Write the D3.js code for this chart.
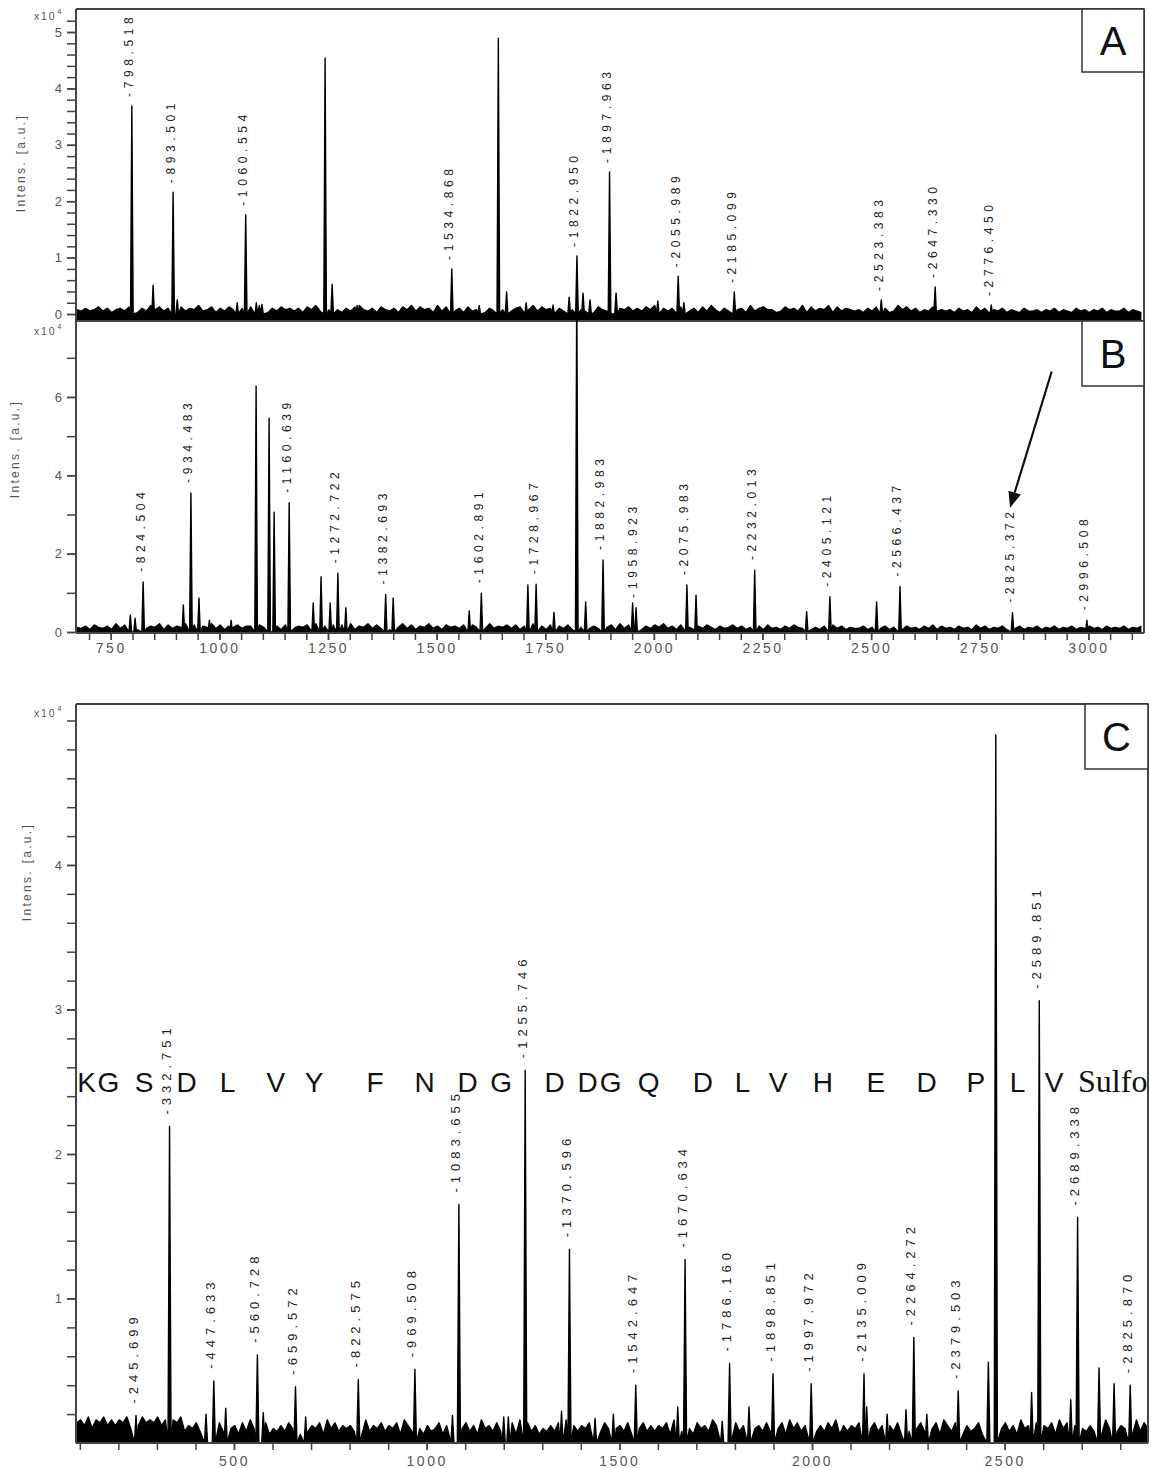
<!DOCTYPE html>
<html>
<head>
<meta charset="utf-8">
<script src="https://cdn.jsdelivr.net/npm/d3@7"></script>
<style>
  body { margin: 0; background: #fff; }
  svg { display: block; }
</style>
</head>
<body>
<div id="chart"></div>
<script>
// peaks: [m/z, intensity (x10^4), label]
var peaksA = [
  [798.518, 3.69, "798.518"], [847.5, 0.51], [893.501, 2.16, "893.501"], [903, 0.25],
  [1041, 0.2], [1060.554, 1.76, "1060.554"], [1085, 0.2], [1098, 0.17],
  [1243.3, 4.54], [1259.5, 0.53], [1317, 0.15], [1534.868, 0.80, "1534.868"],
  [1598, 0.15], [1642, 4.89], [1661, 0.39], [1706, 0.2], [1768, 0.16], [1805, 0.3],
  [1822.950, 1.03, "1822.950"], [1837, 0.37], [1853, 0.25], [1897.963, 2.52, "1897.963"],
  [1913, 0.37], [2009, 0.23], [2055.989, 0.67, "2055.989"], [2069, 0.2],
  [2185.099, 0.39, "2185.099"], [2523.383, 0.25, "2523.383"], [2647.330, 0.48, "2647.330"],
  [2776.450, 0.16, "2776.450"]
];

var peaksB = [
  [795, 0.43], [806, 0.35], [824.504, 1.28, "824.504"], [917, 0.69], [934.483, 3.55, "934.483"],
  [953, 0.87], [977, 0.3], [1027, 0.3], [1084.5, 6.28], [1114.4, 5.46], [1126, 3.06],
  [1160.639, 3.3, "1160.639"], [1216, 0.74], [1234, 1.41], [1255, 0.74], [1272.722, 1.50, "1272.722"],
  [1291, 0.62], [1382.693, 0.96, "1382.693"], [1400, 0.87], [1575, 0.54], [1602.891, 0.99, "1602.891"],
  [1710, 1.2], [1728.967, 1.22, "1728.967"], [1770, 0.5], [1822.5, 9.0], [1843, 0.77],
  [1882.983, 1.84, "1882.983"], [1951, 0.74], [1958.923, 0.62, "1958.923"], [2075.983, 1.2, "2075.983"],
  [2097, 0.94], [2232.013, 1.58, "2232.013"], [2351.6, 0.52], [2405.121, 0.9, "2405.121"],
  [2512.6, 0.77], [2566.437, 1.16, "2566.437"], [2825.372, 0.49, "2825.372"], [2996.508, 0.3, "2996.508"]
];

var peaksC = [
  [245.699, 0.19, "245.699"], [332.751, 2.19, "332.751"], [427.4, 0.2], [447.633, 0.43, "447.633"],
  [478.5, 0.24], [560.728, 0.61, "560.728"], [576, 0.21], [659.572, 0.39, "659.572"], [686, 0.18],
  [822.575, 0.44, "822.575"], [969.508, 0.51, "969.508"], [1067, 0.19], [1083.655, 1.65, "1083.655"],
  [1200, 0.18], [1212, 0.18], [1255.746, 2.58, "1255.746"], [1350, 0.22], [1370.596, 1.34, "1370.596"],
  [1437, 0.17], [1484.5, 0.2], [1542.647, 0.4, "1542.647"], [1651.6, 0.25], [1670.634, 1.27, "1670.634"],
  [1767, 0.15], [1786.160, 0.55, "1786.160"], [1836.6, 0.25], [1898.851, 0.48, "1898.851"],
  [1997.972, 0.41, "1997.972"], [2135.009, 0.48, "2135.009"], [2142, 0.25], [2195, 0.2], [2244, 0.23],
  [2264.272, 0.73, "2264.272"], [2298, 0.2], [2379.503, 0.36, "2379.503"], [2457.7, 0.56],
  [2477, 4.9], [2570, 0.35], [2589.851, 3.06, "2589.851"], [2671.5, 0.3], [2689.338, 1.56, "2689.338"],
  [2745, 0.52], [2784, 0.41], [2825.870, 0.4, "2825.870"]
];

// baseline noise, one digit every 10 Da
var noiseA = "3242352413 4253142635 2413524362 3514253342 5263142534 2415362435 3142563241 5324153625 " +
  "3416253241 5236142534 2451362534 1425363241 5326143524 2536142435 3241526314 2534162453 " +
  "3125342615 2436152432 3142534126 3524132523 2314231524 1324132142 2313241321 4231324132 2413213241";
var noiseB = "4352643527 3645263547 2635473625 4736254635 5264735264 3546273546 4637254736 3526473625 " +
  "4735264536 2645373546 3625473526 4536274635 3546273645 2536473526 3425364253 4635243526 " +
  "3425364352 4253635243 3524635243 2534253625 3425342635 2435243524 3524352435 2435342534 3524352435";
var noiseC = "7869587968 6879586978 7968587946 5746385746 5637485647 3546475836 4657385746 5647384657 " +
  "4657386475 3645736485 5746385647 4657385746 3546473856 4657384756 5647385746 4657386475 " +
  "3756486475 5746385647 4657385746 3546475836 4657385746 5647384657 4657386475 3645736485 " +
  "5746385647 4657385746 3546473856 4657384756 5647385746";

// tick values
var xTicksAB = d3.range(700, 3101, 50);
var xLabelsAB = [750, 1000, 1250, 1500, 1750, 2000, 2250, 2500, 2750, 3000];
var xTicksC = d3.range(100, 2801, 100);
var xLabelsC = [500, 1000, 1500, 2000, 2500];
var yTicksA = d3.range(0, 27).map(function (i) { return i * 0.2; });
var yLabelsA = [0, 1, 2, 3, 4, 5];
var yTicksB = [0, 1, 2, 3, 4, 5, 6, 7];
var yLabelsB = [0, 2, 4, 6];
var yTicksC = d3.range(1, 26).map(function (i) { return i * 0.2; });
var yLabelsC = [1, 2, 3, 4];

// peptide sequence above panel C: letter, m/z of its centre
var seqLetters = ["K", "G", "S", "D", "L", "V", "Y", "F", "N", "D", "G", "D", "D", "G", "Q",
  "D", "L", "V", "H", "E", "D", "P", "L", "V"];
var seqMz = [117.8, 174.3, 266.5, 376.8, 483.2, 608.3, 707.7, 866, 995, 1106.6, 1193.5, 1332.3,
  1418, 1477.2, 1575.8, 1716.5, 1819.8, 1912, 2028, 2165.4, 2297.3, 2425, 2533.5, 2628];

var W = 1151, H = 1468;
var sans = "'Liberation Sans', Arial, sans-serif";
var svg = d3.select("#chart").append("svg").attr("width", W).attr("height", H);
var defs = svg.append("defs");

function spectrum(noise, start, unit, peaks, w, dom) {
  var pts = [];
  noise.replace(/\s/g, "").split("").forEach(function (c, i) {
    var m = start + i * 10;
    if (m < dom[0] || m > dom[1]) return;
    var near = peaks.some(function (p) { return Math.abs(p[0] - m) < w * 1.5; });
    if (!near) pts.push([m, +c * unit]);
  });
  peaks.forEach(function (p) {
    pts.push([p[0] - w, 0], [p[0], p[1]], [p[0] + w, 0]);
  });
  return pts.sort(function (a, b) { return a[0] - b[0]; });
}

function panel(o) {
  var x = d3.scaleLinear().domain(o.xDomain).range([o.left, o.right]);
  var y = d3.scaleLinear().domain(o.yDomain).range([o.bottom, o.top]);
  var g = svg.append("g");

  defs.append("clipPath").attr("id", "clip" + o.name).append("rect")
    .attr("x", o.left).attr("y", o.top - o.overflow)
    .attr("width", o.right - o.left).attr("height", o.bottom - o.top + o.overflow);

  var pts = spectrum(o.noise, o.noiseStart, o.unit, o.peaks, o.w, o.xDomain);
  var plot = g.append("g").attr("clip-path", "url(#clip" + o.name + ")");
  plot.append("path").datum(pts)
    .attr("d", d3.area().x(function (d) { return x(d[0]); }).y0(o.bottom).y1(function (d) { return y(d[1]); }))
    .attr("fill", "#000");
  plot.append("path").datum(pts)
    .attr("d", d3.line().x(function (d) { return x(d[0]); }).y(function (d) { return y(d[1]); }))
    .attr("fill", "none").attr("stroke", "#000").attr("stroke-width", 1.4).attr("stroke-linejoin", "round");

  // peak labels
  g.selectAll("text.peak").data(o.peaks.filter(function (p) { return p[2]; }))
    .enter().append("text")
    .attr("class", "peak")
    .attr("transform", function (p) { return "translate(" + x(p[0]) + "," + (y(p[1]) - o.gap) + ") rotate(-90)"; })
    .attr("dy", "0.12em")
    .attr("font-family", sans).attr("font-size", o.labelSize).attr("letter-spacing", o.labelSpacing)
    .attr("fill", "#222")
    .text(function (p) { return "-" + p[2]; });

  // frame
  var fr = g.append("g").attr("fill", "none").attr("stroke", "#444").attr("stroke-width", 2);
  if (o.frameTop) fr.append("line").attr("x1", o.left).attr("x2", o.right).attr("y1", o.top).attr("y2", o.top);
  fr.append("line").attr("x1", o.left).attr("x2", o.right).attr("y1", o.bottom).attr("y2", o.bottom);
  fr.append("line").attr("x1", o.left).attr("x2", o.left).attr("y1", o.top).attr("y2", o.bottom);
  fr.append("line").attr("x1", o.right).attr("x2", o.right).attr("y1", o.top).attr("y2", o.bottom);

  // y axis
  var ya = g.append("g").attr("transform", "translate(" + (o.left - 1) + ",0)")
    .call(d3.axisLeft(y).tickValues(o.yTicks).tickSize(8).tickFormat(""));
  var yl = g.append("g").attr("transform", "translate(" + (o.left - 1) + ",0)")
    .call(d3.axisLeft(y).tickValues(o.yLabels).tickSize(8).tickPadding(5).tickFormat(d3.format("d")));
  [ya, yl].forEach(function (a) {
    a.select(".domain").remove();
    a.selectAll("line").attr("stroke", "#444").attr("stroke-width", 1.5);
    a.selectAll("text").attr("font-family", sans).attr("font-size", 13).attr("fill", "#555");
  });

  // x axis
  if (o.xTicks) {
    var xa = g.append("g").attr("transform", "translate(0," + (o.bottom + 1) + ")")
      .call(d3.axisBottom(x).tickValues(o.xTicks).tickSize(6).tickFormat(""));
    var xl = g.append("g").attr("transform", "translate(0," + (o.bottom + 1) + ")")
      .call(d3.axisBottom(x).tickValues(o.xLabels).tickSize(6).tickPadding(o.xPad).tickFormat(d3.format("d")));
    [xa, xl].forEach(function (a) {
      a.select(".domain").remove();
      a.selectAll("line").attr("stroke", "#444").attr("stroke-width", 1.5);
      a.selectAll("text").attr("font-family", sans).attr("font-size", 14).attr("letter-spacing", 2.5)
        .attr("fill", "#555");
    });
  }

  // axis title
  g.append("text")
    .attr("transform", "translate(" + o.titleX + "," + o.titleY + ") rotate(-90)")
    .attr("dy", "0.35em").attr("text-anchor", "middle")
    .attr("font-family", sans).attr("font-size", 12).attr("letter-spacing", 2.3).attr("fill", "#555")
    .text("Intens. [a.u.]");

  // x10^4
  var ex = g.append("text").attr("x", 34).attr("y", o.expY)
    .attr("font-family", sans).attr("font-size", 10.5).attr("letter-spacing", 1.8).attr("fill", "#555");
  ex.append("tspan").text("x10");
  ex.append("tspan").attr("font-size", 7.5).attr("dy", -6).attr("dx", 1).text("4");

  // panel letter box
  g.append("rect").attr("x", o.box[0]).attr("y", o.box[1]).attr("width", o.box[2]).attr("height", o.box[3])
    .attr("fill", "#fff").attr("stroke", "#333").attr("stroke-width", 1.5);
  g.append("text").attr("x", o.box[0] + o.box[2] / 2).attr("y", o.box[1] + o.box[3] / 2)
    .attr("dy", "0.36em").attr("text-anchor", "middle")
    .attr("font-family", sans).attr("font-size", 40).attr("fill", "#111")
    .text(o.name);

  return { x: x, y: y, g: g };
}

panel({
  name: "A", left: 76, right: 1144, top: 9, bottom: 321, overflow: 0, frameTop: true,
  xDomain: [670, 3128], yDomain: [-0.124, 5.408],
  noise: noiseA, noiseStart: 672, unit: 0.025, peaks: peaksA, w: 3,
  gap: 9, labelSize: 12, labelSpacing: 4.6,
  yTicks: yTicksA, yLabels: yLabelsA,
  titleX: 21, titleY: 163, expY: 20, box: [1082, 9, 62, 63]
});

var pB = panel({
  name: "B", left: 76, right: 1144, top: 321, bottom: 633, overflow: 3, frameTop: false,
  xDomain: [670, 3128], yDomain: [-0.0255, 7.94],
  noise: noiseB, noiseStart: 672, unit: 0.03, peaks: peaksB, w: 3,
  gap: 10, labelSize: 12, labelSpacing: 4.6,
  yTicks: yTicksB, yLabels: yLabelsB,
  xTicks: xTicksAB, xLabels: xLabelsAB, xPad: 3,
  titleX: 15, titleY: 449, expY: 335, box: [1082, 321, 62, 65]
});

// arrow pointing at the 2825.372 peak
var a0 = [pB.x(2915.6), pB.y(6.65)], a1 = [pB.x(2819.6), pB.y(3.17)];
var ang = Math.atan2(a1[1] - a0[1], a1[0] - a0[0]);
var hl = 16, hw = 6.5;
var base = [a1[0] - hl * Math.cos(ang), a1[1] - hl * Math.sin(ang)];
pB.g.append("line").attr("x1", a0[0]).attr("y1", a0[1]).attr("x2", base[0]).attr("y2", base[1])
  .attr("stroke", "#111").attr("stroke-width", 2.2);
pB.g.append("path")
  .attr("d", "M" + a1 + "L" + [base[0] + hw * Math.sin(ang), base[1] - hw * Math.cos(ang)] +
    "L" + [base[0] - hw * Math.sin(ang), base[1] + hw * Math.cos(ang)] + "Z")
  .attr("fill", "#111");

var pC = panel({
  name: "C", left: 76, right: 1148, top: 704, bottom: 1443, overflow: 0, frameTop: true,
  xDomain: [90, 2872], yDomain: [0, 5.114],
  noise: noiseC, noiseStart: 92, unit: 0.02, peaks: peaksC, w: 4,
  gap: 12, labelSize: 13, labelSpacing: 5,
  yTicks: yTicksC, yLabels: yLabelsC,
  xTicks: xTicksC, xLabels: xLabelsC, xPad: 6,
  titleX: 27, titleY: 872, expY: 717, box: [1085, 704, 63, 65]
});

// sequence ladder
var seqY = pC.y(2.43);
pC.g.selectAll("text.seq").data(seqLetters).enter().append("text")
  .attr("class", "seq")
  .attr("x", function (d, i) { return pC.x(seqMz[i]); })
  .attr("y", seqY)
  .attr("text-anchor", "middle")
  .attr("font-family", sans).attr("font-size", 28).attr("fill", "#111")
  .text(function (d) { return d; });
pC.g.append("text").attr("x", pC.x(2690.5)).attr("y", seqY)
  .attr("font-family", "'Liberation Serif', 'Times New Roman', serif").attr("font-size", 32).attr("fill", "#111")
  .text("Sulfo");
</script>
</body>
</html>
